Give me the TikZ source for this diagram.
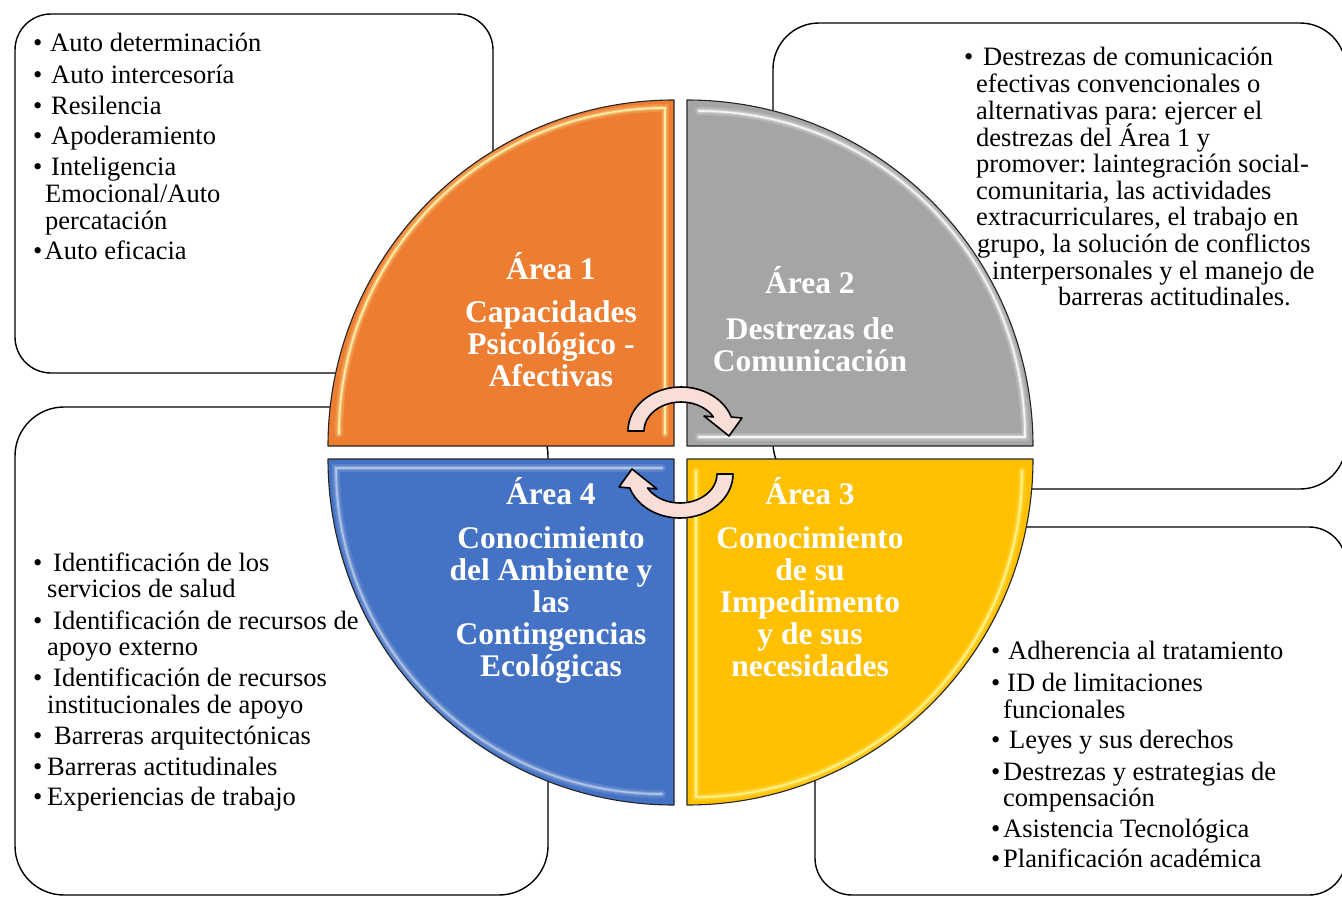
\documentclass[tikz,border=0pt]{standalone}
\usepackage{fontspec}
\setmainfont{Liberation Serif}
\frenchspacing
% bullet followed by a fixed gap up to the start of the text
\newcommand\bul[1]{\makebox[#1][l]{•}}
% one quarter of the disc, drawn in the top-left position;
% #1 fill colour, #2 colour of the bevel highlight
\newcommand\quarterdisc[2]{%
  \fill[#1] (674,446) -- (328,446) arc[start angle=180,end angle=270,radius=346] -- cycle;
  \draw[#2, line width=8pt, opacity=.18, line cap=round]
    (339,434) arc[start angle=180,end angle=270,radius=326] -- (665,434);
  \draw[#2, line width=4pt, opacity=.35, line cap=round]
    (339,434) arc[start angle=180,end angle=270,radius=326] -- (665,434);
  \draw[#2, line width=1.6pt, opacity=.8, line cap=round]
    (339,434) arc[start angle=180,end angle=270,radius=326] -- (665,434);
  \draw[black!85, line width=1.1pt, line join=round]
    (674,446) -- (328,446) arc[start angle=180,end angle=270,radius=346] -- cycle;}
% curved arrow turning clockwise over the top
\newcommand\turnarrow{%
  \draw[arrowbody] (628,431) arc[start angle=180,end angle=341.5,x radius=53,y radius=44]
    -- (742,418) -- (729,436) -- (704,416) -- (713.4,417)
    arc[start angle=331.1,end angle=180,x radius=37,y radius=29] -- cycle;}
\definecolor{areaorange}{RGB}{237,125,49}
\definecolor{areagray}{RGB}{165,165,165}
\definecolor{areayellow}{RGB}{255,192,0}
\definecolor{areablue}{RGB}{68,114,196}
\definecolor{arrowpink}{RGB}{248,222,214}
\begin{document}
\begin{tikzpicture}[x=1pt,y=-1pt,
  panel/.style={draw=black, line width=1.4pt, fill=white},
  entry/.style={anchor=base west, inner sep=0pt, font=\fontsize{26.5}{27}\selectfont},
  title/.style={anchor=base, inner sep=0pt, text=white, font=\fontsize{31.5}{32}\selectfont\bfseries},
  arrowbody/.style={fill=arrowpink, draw=black, line width=1.6pt, line join=round}]
\useasboundingbox (0,0) rectangle (1342,897);

% text panels behind the disc
\draw[panel, rounded corners=36pt] (15,14) rectangle (493,373);
\draw[panel, rounded corners=46pt] (773,23) rectangle (1346,489);
\draw[panel, rounded corners=49pt] (15,407) rectangle (548,895);
\draw[panel, rounded corners=37pt] (815,527) rectangle (1346,895);

% the four areas of the disc
\quarterdisc{areaorange}{yellow!30!white}
\begin{scope}[rotate around={-90:(680.5,452.5)}]
  \quarterdisc{areagray}{white}
\end{scope}
\begin{scope}[rotate around={-180:(680.5,452.5)}]
  \quarterdisc{areayellow}{yellow!40!white}
\end{scope}
\begin{scope}[rotate around={-270:(680.5,452.5)}]
  \quarterdisc{areablue}{areablue!35!white}
\end{scope}

% area titles
\node[title] (o1) at (551,279) {Área 1};
\node[title] (o2) at (551,322) {Capacidades};
\node[title] (o3) at (551,354) {Psicológico -};
\node[title] (o4) at (551,386) {Afectivas};

\node[title] (g1) at (810,293) {Área 2};
\node[title] (g2) at (810,339) {Destrezas de};
\node[title] (g3) at (810,371) {Comunicación};

\node[title] (y1) at (810,504) {Área 3};
\node[title] (y2) at (810,548) {Conocimiento};
\node[title] (y3) at (810,580) {de su};
\node[title] (y4) at (810,612) {Impedimento};
\node[title] (y5) at (810,644) {y de sus};
\node[title] (y6) at (810,676) {necesidades};

\node[title] (u1) at (551,504) {Área 4};
\node[title] (u2) at (551,548) {Conocimiento};
\node[title] (u3) at (551,580) {del Ambiente y};
\node[title] (u4) at (551,612) {las};
\node[title] (u5) at (551,644) {Contingencias};
\node[title] (u6) at (551,676) {Ecológicas};

% cycle arrows in the middle
\turnarrow
\begin{scope}[rotate around={180:(680.5,452.5)}]
  \turnarrow
\end{scope}

% area 1 items
\node[entry] (a1) at (33,51) {\bul{17pt}Auto determinación};
\node[entry] (a2) at (33,83) {\bul{18pt}Auto intercesoría};
\node[entry] (a3) at (33,114) {\bul{18pt}Resilencia};
\node[entry] (a4) at (33,144) {\bul{18pt}Apoderamiento};
\node[entry] (a5) at (33,175) {\bul{18pt}Inteligencia};
\node[entry] (a6) at (45,202) {Emocional/Auto};
\node[entry] (a7) at (45,229) {percatación};
\node[entry] (a8) at (33,259) {\bul{11.5pt}Auto eficacia};

% area 2 items
\node[entry] (b1) at (964,65) {\bul{19pt}Destrezas de comunicación};
\node[entry] (b2) at (976,92) {efectivas convencionales o};
\node[entry] (b3) at (976,119) {alternativas para: ejercer el};
\node[entry] (b4) at (976,146) {destrezas del Área 1 y};
\node[entry] (b5) at (976,172) {promover: laintegración social-};
\node[entry] (b6) at (976,199) {comunitaria, las actividades};
\node[entry] (b7) at (976,225) {extracurriculares, el trabajo en};
\node[entry] (b8) at (977,252) {grupo, la solución de conflictos};
\node[entry] (b9) at (992,279) {interpersonales y el manejo de};
\node[entry] (b10) at (1058,305) {barreras actitudinales.};

% area 4 items
\node[entry] (c1) at (33,571) {\bul{20pt}Identificación de los};
\node[entry] (c2) at (47,597) {servicios de salud};
\node[entry] (c3) at (33,629) {\bul{20pt}Identificación de recursos de};
\node[entry] (c4) at (47,655) {apoyo externo};
\node[entry] (c5) at (33,686) {\bul{20pt}Identificación de recursos};
\node[entry] (c6) at (47,713) {institucionales de apoyo};
\node[entry] (c7) at (33,744) {\bul{21pt}Barreras arquitectónicas};
\node[entry] (c8) at (33,775) {\bul{14pt}Barreras actitudinales};
\node[entry] (c9) at (33,805) {\bul{14pt}Experiencias de trabajo};

% area 3 items
\node[entry] (d1) at (991,659) {\bul{17pt}Adherencia al tratamiento};
\node[entry] (d2) at (991,691) {\bul{16pt}ID de limitaciones};
\node[entry] (d3) at (1003,718) {funcionales};
\node[entry] (d4) at (991,748) {\bul{18pt}Leyes y sus derechos};
\node[entry] (d5) at (991,780) {\bul{12pt}Destrezas y estrategias de};
\node[entry] (d6) at (1003,806) {compensación};
\node[entry] (d7) at (991,837) {\bul{12pt}Asistencia Tecnológica};
\node[entry] (d8) at (991,867) {\bul{12pt}Planificación académica};
\end{tikzpicture}
\end{document}
